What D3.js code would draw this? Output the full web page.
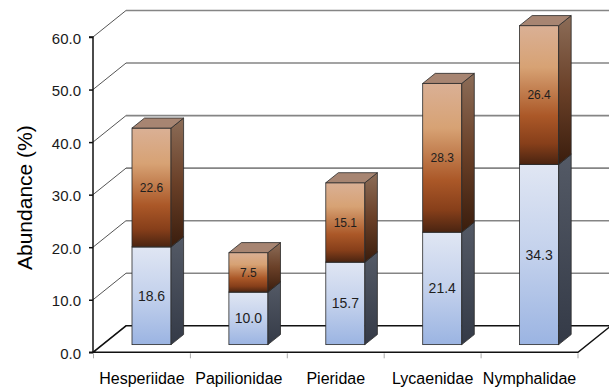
<!DOCTYPE html>
<html>
<head>
<meta charset="utf-8">
<script src="https://cdn.jsdelivr.net/npm/d3@7"></script>
<style>
  body { margin: 0; background: #fff; }
  svg { display: block; font-family: "Liberation Sans", Arial, sans-serif; }
</style>
</head>
<body>
<svg id="chart" width="609" height="390"></svg>
<script>
const categories = ["Hesperiidae", "Papilionidae", "Pieridae", "Lycaenidae", "Nymphalidae"];
const lowerValues = [18.6, 10.0, 15.7, 21.4, 34.3];
const upperValues = [22.6, 7.5, 15.1, 28.3, 26.4];
const yTickValues = [0, 10, 20, 30, 40, 50, 60];
const yLabel = "Abundance (%)";

(function () {
const svg = d3.select("#chart");
const defs = svg.append("defs");

// geometry
const plotLeft = 93, plotRight = 578, plotBottom = 352.3, plotTop = 37;
const depth = { dx: 33, dy: -26.5 };
const f1 = 0.29, f2 = 0.67;
const wallRight = 609;

const x = d3.scaleBand().domain(categories).range([plotLeft + 0.5, plotRight]).paddingInner(0).paddingOuter(0);
const y = d3.scaleLinear().domain([0, 60]).range([plotBottom, plotTop]);

function grad(id, stops) {
  const g = defs.append("linearGradient").attr("id", id)
    .attr("x1", 0).attr("y1", 0).attr("x2", 0).attr("y2", 1);
  stops.forEach(([o, c]) => g.append("stop").attr("offset", o).attr("stop-color", c));
}
grad("brownFront", [[0, "#dab095"], [0.3, "#d7a274"], [0.65, "#ab5828"], [0.85, "#873f1a"], [1, "#4a2411"]]);
grad("brownSide", [[0, "#8c6d58"], [0.5, "#6a4028"], [1, "#3a1d0d"]]);
grad("blueFront", [[0, "#e0e6f3"], [0.5, "#c3d1ec"], [1, "#9bb4e2"]]);
grad("blueSide", [[0, "#545a66"], [1, "#343a47"]]);

// back wall gridlines
const g0 = svg.append("g");
g0.selectAll("line.grid").data(yTickValues).join("line").attr("class", "grid")
  .attr("x1", plotLeft + depth.dx).attr("x2", wallRight)
  .attr("y1", d => y(d) + depth.dy).attr("y2", d => y(d) + depth.dy)
  .attr("stroke", "#858585").attr("stroke-width", 1.6);
// left wall diagonals
g0.selectAll("line.diag").data(yTickValues).join("line").attr("class", "diag")
  .attr("x1", plotLeft).attr("y1", d => y(d))
  .attr("x2", plotLeft + depth.dx).attr("y2", d => y(d) + depth.dy)
  .attr("stroke", "#555").attr("stroke-width", 1);

// floor
svg.append("path")
  .attr("d", `M${plotLeft},${y(0)} L${plotRight},${y(0)} L${plotRight + depth.dx},${y(0) + depth.dy} L${plotLeft + depth.dx},${y(0) + depth.dy} Z`)
  .attr("fill", "#fff").attr("stroke", "#111").attr("stroke-width", 1.5);

// y axis
const yAxis = d3.axisLeft(y).tickValues(yTickValues).tickFormat(d3.format(".1f")).tickSize(4).tickPadding(8);
const ya = svg.append("g").attr("transform", `translate(${plotLeft},0)`).call(yAxis);
ya.select(".domain").attr("stroke", "#111").attr("stroke-width", 1.5).attr("d", `M-4,${plotTop}H0V${plotBottom}H-4`);
ya.selectAll(".tick line").attr("stroke", "#111").attr("stroke-width", 1.5);
ya.selectAll(".tick text").attr("font-size", 15).attr("fill", "#1a1a1a").attr("dy", "0.4em")
  .style("font-family", "'Liberation Sans', Arial, sans-serif");

// x axis
const xAxis = d3.axisBottom(x).tickSize(0).tickPadding(20.5);
const xa = svg.append("g").attr("transform", `translate(0,${y(0)})`).call(xAxis);
xa.select(".domain").remove();
xa.selectAll(".tick text").attr("font-size", 16).attr("fill", "#000")
  .style("font-family", "'Liberation Sans', Arial, sans-serif");
const bounds = categories.map(c => x(c)).concat([x(categories[categories.length - 1]) + x.bandwidth()]);
svg.append("g").selectAll("line").data(bounds).join("line")
  .attr("x1", d => d).attr("x2", d => d).attr("y1", y(0) + 1).attr("y2", y(0) + 6)
  .attr("stroke", "#aaa").attr("stroke-width", 1);

// bars
const barW = x.bandwidth() * 0.403;
const ox1 = depth.dx * f1, oy1 = depth.dy * f1;
const bdx = depth.dx * (f2 - f1), bdy = depth.dy * (f2 - f1);

const rows = categories.map((c, i) => ({ c, lo: lowerValues[i], hi: upperValues[i] }));
const bars = svg.append("g").selectAll("g").data(rows).join("g");

function drawSeg(sel, v0, v1, front, side, topFill, fontSize) {
  sel.each(function (d) {
    const g = d3.select(this);
    const a = v0(d), b = v1(d);
    const x0 = x(d.c) + x.bandwidth() / 2 - barW / 2 + ox1, x1 = x0 + barW;
    const yb = y(a) + oy1, yt = y(b) + oy1;
    g.append("rect").attr("x", x0).attr("y", yt).attr("width", barW).attr("height", yb - yt)
      .attr("fill", `url(#${front})`).attr("stroke", "#2a2a2a").attr("stroke-width", 0.8);
    g.append("path").attr("d", `M${x1},${yb} L${x1 + bdx},${yb + bdy} L${x1 + bdx},${yt + bdy} L${x1},${yt} Z`)
      .attr("fill", `url(#${side})`).attr("stroke", "#2a2a2a").attr("stroke-width", 0.8);
    g.append("path").attr("d", `M${x0},${yt} L${x1},${yt} L${x1 + bdx},${yt + bdy} L${x0 + bdx},${yt + bdy} Z`)
      .attr("fill", topFill).attr("stroke", "#2a2a2a").attr("stroke-width", 0.8);
    g.append("text").attr("x", (x0 + x1) / 2).attr("y", (yb + yt) / 2).attr("dy", "0.36em")
      .attr("text-anchor", "middle").attr("font-size", fontSize).attr("fill", "#1e1e1e")
      .text(d3.format(".1f")(b - a));
  });
}
drawSeg(bars.append("g"), d => 0, d => d.lo, "blueFront", "blueSide", "#c9d4ea", 14);
drawSeg(bars.append("g"), d => d.lo, d => d.lo + d.hi, "brownFront", "brownSide", "#a78572", 12);

// y label
svg.append("text")
  .attr("transform", `translate(32,${(y(0) + y(60)) / 2 + 3}) rotate(-90)`)
  .attr("text-anchor", "middle").attr("font-size", 21).attr("fill", "#000")
  .text(yLabel);
})();
</script>
</body>
</html>
